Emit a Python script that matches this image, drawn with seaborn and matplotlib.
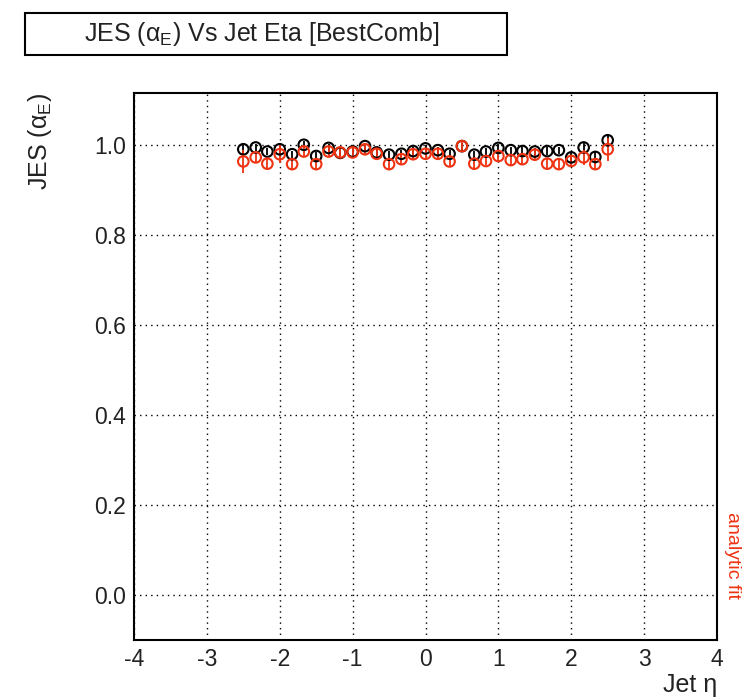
import numpy as np
import pandas as pd
import matplotlib
matplotlib.use("Agg")
import matplotlib.pyplot as plt
import seaborn as sns
from matplotlib.patches import Rectangle
from matplotlib.ticker import MultipleLocator

# jet eta bins and fitted JES values
eta = [-2.50, -2.33, -2.17, -2.00, -1.83, -1.67, -1.50, -1.33, -1.17, -1.00,
       -0.83, -0.67, -0.50, -0.33, -0.17, 0.00, 0.17, 0.33, 0.50, 0.67,
       0.83, 1.00, 1.17, 1.33, 1.50, 1.67, 1.83, 2.00, 2.17, 2.33, 2.50]
jes_best = [0.990, 0.994, 0.985, 0.990, 0.979, 1.000, 0.975, 0.993, 0.982, 0.985,
            0.997, 0.983, 0.978, 0.980, 0.986, 0.992, 0.988, 0.980, 0.997, 0.978,
            0.985, 0.993, 0.988, 0.986, 0.985, 0.986, 0.988, 0.972, 0.994, 0.973, 1.010]
err_best = [0.010, 0.008, 0.008, 0.010, 0.008, 0.008, 0.008, 0.008, 0.008, 0.008,
            0.008, 0.008, 0.008, 0.008, 0.008, 0.008, 0.008, 0.008, 0.008, 0.008,
            0.008, 0.008, 0.008, 0.008, 0.008, 0.008, 0.008, 0.010, 0.010, 0.010, 0.014]
jes_fit = [0.963, 0.972, 0.958, 0.979, 0.957, 0.985, 0.957, 0.985, 0.983, 0.983,
           0.990, 0.980, 0.957, 0.968, 0.979, 0.980, 0.980, 0.963, 0.997, 0.958,
           0.964, 0.975, 0.966, 0.968, 0.978, 0.958, 0.957, 0.964, 0.972, 0.957, 0.990]
err_fit = [0.025, 0.012, 0.012, 0.020, 0.012, 0.012, 0.012, 0.012, 0.010, 0.010,
           0.010, 0.010, 0.010, 0.010, 0.010, 0.010, 0.010, 0.010, 0.010, 0.010,
           0.010, 0.010, 0.010, 0.010, 0.012, 0.012, 0.012, 0.014, 0.016, 0.014, 0.025]

red = "#ee3311"

df = pd.DataFrame({
    "eta": eta * 2,
    "jes": jes_best + jes_fit,
    "err": err_best + err_fit,
    "method": ["BestComb"] * len(eta) + ["analytic fit"] * len(eta),
})

sns.set_style("white")
plt.rcParams["font.family"] = ["Liberation Sans", "DejaVu Sans"]
plt.rcParams["axes.unicode_minus"] = False
plt.rcParams["mathtext.fontset"] = "custom"
plt.rcParams["mathtext.rm"] = "Liberation Sans"

fig = plt.figure(figsize=(7.43, 6.99), dpi=100)
ax = fig.add_axes([134 / 743, 1 - 640 / 699, 583 / 743, 547 / 699])

colors = {"BestComb": "black", "analytic fit": red}
for name, sub in df.groupby("method", sort=False):
    ax.errorbar(sub["eta"], sub["jes"], yerr=sub["err"], fmt="none",
                ecolor=colors[name], elinewidth=1.3, capsize=0, zorder=3)
    sns.scatterplot(data=sub, x="eta", y="jes", marker="o", s=58,
                    legend=False, ax=ax, zorder=4)
    pts = ax.collections[-1]
    pts.set_facecolor("none")
    pts.set_edgecolor(colors[name])
    pts.set_linewidth(1.5)

ax.set_xlim(-4, 4)
ax.set_ylim(-0.1, 1.115)
ax.xaxis.set_major_locator(MultipleLocator(1))
ax.xaxis.set_minor_locator(MultipleLocator(0.2))
ax.yaxis.set_major_locator(MultipleLocator(0.2))
ax.yaxis.set_minor_locator(MultipleLocator(0.05))
ax.yaxis.set_major_formatter(matplotlib.ticker.FormatStrFormatter("%.1f"))
ax.tick_params(which="both", direction="in", top=False, right=False,
               width=1.2, colors="black", labelsize=16.5, labelcolor="#222222")
ax.tick_params(which="major", length=14, pad=6)
ax.tick_params(which="minor", length=8.5)
ax.grid(True, which="major", color="black", linestyle=(0, (1, 3)), linewidth=1.0)
for sp in ax.spines.values():
    sp.set_color("black")
    sp.set_linewidth(1.5)
ax.set_xlabel("")
ax.set_ylabel("")

fig.text(40 / 743, 1 - 93 / 699, r"JES ($\mathregular{α_{E}}$)", rotation=90,
         ha="center", va="top", fontsize=18, color="#222222")
fig.text(717 / 743, 1 - 685 / 699, "Jet η", ha="right", va="center",
         fontsize=18, color="#222222")

fig.add_artist(Rectangle((25 / 743, 1 - 55 / 699), 482 / 743, 42 / 699,
                         transform=fig.transFigure, facecolor="white",
                         edgecolor="black", linewidth=1.5))
fig.text(262 / 743, 1 - 34 / 699, r"JES ($\mathregular{α_{E}}$) Vs Jet Eta [BestComb]",
         ha="center", va="center", fontsize=18, color="#222222")

fig.text(724 / 743, 1 - 512 / 699, "analytic fit", rotation=-90, ha="left", va="top",
         fontsize=14, color=red)

fig.savefig("out.png", dpi=100)
